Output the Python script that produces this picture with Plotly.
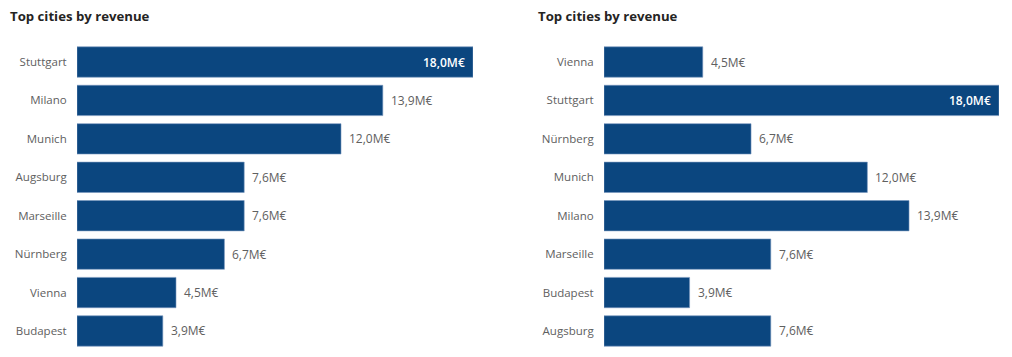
import plotly.graph_objects as go

# Left chart: sorted by revenue (desc)
left_cities = ["Stuttgart", "Milano", "Munich", "Augsburg", "Marseille", "Nürnberg", "Vienna", "Budapest"]
left_revenue = [18.0, 13.9, 12.0, 7.6, 7.6, 6.7, 4.5, 3.9]

# Right chart: sorted by city name (desc)
right_cities = ["Vienna", "Stuttgart", "Nürnberg", "Munich", "Milano", "Marseille", "Budapest", "Augsburg"]
right_revenue = [4.5, 18.0, 6.7, 12.0, 13.9, 7.6, 3.9, 7.6]

title_text = "Top cities by revenue"

W, H = 1012, 357
BAR = "#0b467f"
FONT = "Open Sans"

def fmt(v):
    return f"{v:.1f}".replace(".", ",") + "M€"

fig = go.Figure()
annotations = []

panels = [
    (left_cities, left_revenue, "x", "y", [77 / W, 473 / W], 8),
    (right_cities, right_revenue, "x2", "y2", [604 / W, 999 / W], 536),
]
ydom = [1 - 350.2 / H, 1 - 42.8 / H]
vmax = max(left_revenue + right_revenue)

for cities, vals, xa, ya, xdom, tx in panels:
    fig.add_trace(go.Bar(
        y=cities, x=vals, orientation="h", xaxis=xa, yaxis=ya,
        marker=dict(color=BAR, line=dict(color="rgba(120,150,190,0.6)", width=1)),
        width=0.79, hoverinfo="skip", showlegend=False,
    ))
    for c, v in zip(cities, vals):
        inside = v >= vmax
        annotations.append(dict(
            x=v, y=c, xref=xa, yref=ya, text=fmt(v), showarrow=False,
            xanchor="right" if inside else "left",
            xshift=-6 if inside else 6,
            font=dict(family=FONT, size=12, color="white" if inside else "#606060",
                      weight=600 if inside else "normal"),
        ))
    annotations.append(dict(
        x=tx / W, y=1 - 16 / H, xref="paper", yref="paper", text=title_text,
        showarrow=False, xanchor="left", yanchor="middle",
        font=dict(family=FONT, size=13.2, color="#252423", weight="bold"),
    ))

axis_common = dict(showgrid=False, zeroline=False, showline=False, showticklabels=False,
                   range=[0, vmax], fixedrange=True)
yaxis_common = dict(showgrid=False, zeroline=False, showline=False, autorange="reversed",
                    ticks="outside", ticklen=7, tickcolor="rgba(0,0,0,0)",
                    tickfont=dict(family=FONT, size=11.5, color="#606060"),
                    domain=ydom, fixedrange=True)

fig.update_layout(
    width=W, height=H,
    margin=dict(l=0, r=0, t=0, b=0),
    paper_bgcolor="white", plot_bgcolor="white",
    xaxis=dict(domain=panels[0][4], anchor="y", **axis_common),
    xaxis2=dict(domain=panels[1][4], anchor="y2", **axis_common),
    yaxis=dict(anchor="x", **yaxis_common),
    yaxis2=dict(anchor="x2", **yaxis_common),
    annotations=annotations,
    bargap=0.21,
)

fig.write_html("out.html", config={"displayModeBar": False},
               post_script="document.body.style.margin='0';document.body.style.overflow='hidden';")
